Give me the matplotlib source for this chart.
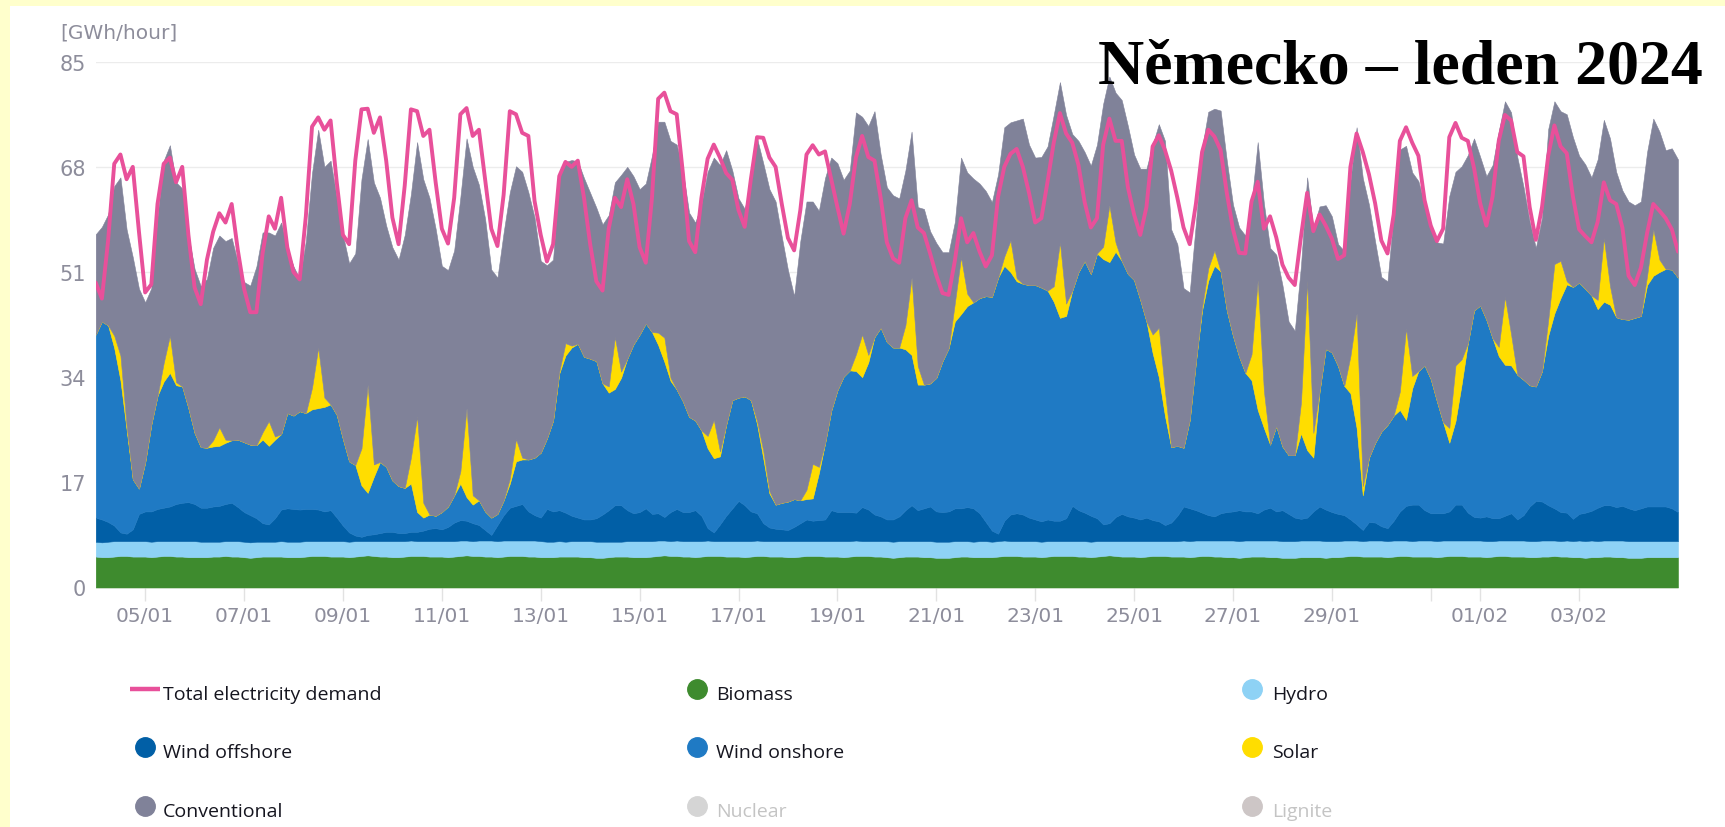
import numpy as np
import pandas as pd
import matplotlib
matplotlib.use("Agg")
import matplotlib.pyplot as plt
from matplotlib.patches import Rectangle
from matplotlib.lines import Line2D

# ---------------- data (3-hourly, 2024-01-04 00:00 -> 2024-02-05 00:00) ----------------
demand = [
    49.3, 46.7, 56.0, 68.5, 70.0, 66.0, 68.0, 57.5,
    47.7, 49.0, 62.0, 68.5, 69.5, 65.5, 68.0, 57.0,
    48.5, 45.8, 53.0, 57.5, 60.5, 59.0, 62.0, 54.5,
    48.3, 44.5, 44.5, 54.0, 60.0, 58.0, 63.0, 55.0,
    51.0, 49.8, 60.0, 74.5, 76.0, 74.0, 75.5, 65.5,
    57.0, 55.5, 69.0, 77.3, 77.4, 73.5, 76.0, 69.0,
    59.8, 55.5, 65.0, 77.3, 77.0, 73.0, 74.0, 65.5,
    58.0, 55.6, 63.0, 76.5, 77.5, 73.0, 74.0, 66.0,
    58.0, 55.2, 63.5, 77.0, 76.5, 73.5, 73.0, 62.5,
    57.0, 52.7, 55.5, 66.5, 68.8, 68.0, 69.0, 63.0,
    55.5, 49.5, 48.0, 58.0, 63.0, 61.5, 66.0, 62.0,
    55.0, 52.5, 63.0, 79.0, 80.0, 77.0, 76.5, 67.0,
    56.0, 54.2, 63.0, 69.3, 71.6, 69.5, 67.0, 65.9,
    61.0, 58.3, 66.0, 72.8, 72.7, 69.5, 68.0, 62.0,
    56.5, 54.5, 61.0, 70.0, 71.5, 70.0, 70.5, 66.0,
    61.5, 57.2, 62.0, 69.5, 73.0, 69.6, 69.0, 63.0,
    55.8, 53.2, 52.5, 59.7, 62.6, 58.2, 57.3, 54.0,
    50.5, 47.6, 47.3, 52.8, 59.7, 55.8, 57.3, 54.3,
    51.9, 53.7, 63.2, 68.0, 70.1, 70.9, 68.0, 63.8,
    59.0, 59.7, 65.6, 71.9, 76.7, 73.4, 71.9, 68.3,
    62.3, 58.2, 59.7, 71.6, 75.8, 72.2, 72.2, 64.7,
    60.3, 57.0, 61.5, 71.3, 73.1, 70.7, 67.4, 63.0,
    58.2, 55.5, 62.0, 70.4, 74.0, 72.9, 70.7, 63.8,
    57.9, 54.1, 54.0, 62.4, 65.6, 58.0, 60.0, 56.6,
    52.2, 50.1, 48.9, 56.7, 63.8, 57.6, 60.3, 58.5,
    56.4, 53.1, 53.7, 68.0, 73.4, 70.4, 66.8, 62.1,
    56.1, 54.0, 60.3, 72.2, 74.4, 71.9, 69.8, 62.6,
    58.5, 56.0, 58.0, 72.8, 75.1, 72.7, 72.2, 67.8,
    62.1, 58.5, 63.2, 72.2, 76.4, 75.5, 70.4, 69.7,
    61.5, 56.2, 61.5, 69.8, 74.7, 71.3, 70.2, 63.2,
    57.9, 56.8, 55.8, 59.1, 65.5, 62.6, 62.0, 58.2,
    50.4, 48.9, 51.7, 57.3, 62.0, 60.9, 59.7, 57.9,
    54.3,
]

biomass = [
    5.0, 4.9, 4.9, 5.0, 5.1, 5.1, 5.0, 5.0,
    5.0, 4.9, 5.0, 5.1, 5.1, 5.0, 5.0, 4.9,
    4.9, 4.9, 4.9, 5.0, 5.0, 5.1, 5.0, 5.0,
    4.9, 4.8, 4.9, 5.0, 5.0, 5.0, 5.0, 4.9,
    4.9, 4.9, 5.0, 5.1, 5.1, 5.1, 5.0, 5.0,
    5.0, 4.9, 5.0, 5.1, 5.2, 5.1, 5.0, 5.0,
    4.9, 4.9, 5.0, 5.1, 5.1, 5.1, 5.0, 5.0,
    5.0, 4.9, 5.0, 5.1, 5.2, 5.1, 5.1, 5.0,
    5.0, 4.9, 5.0, 5.1, 5.1, 5.1, 5.0, 5.0,
    4.9, 4.9, 4.9, 5.0, 5.0, 5.0, 5.0, 4.9,
    4.9, 4.8, 4.8, 4.9, 5.0, 5.0, 5.0, 4.9,
    4.9, 4.9, 5.0, 5.1, 5.2, 5.1, 5.1, 5.0,
    5.0, 4.9, 5.0, 5.1, 5.1, 5.1, 5.0, 5.0,
    5.0, 4.9, 5.0, 5.1, 5.1, 5.0, 5.0, 5.0,
    4.9, 4.9, 5.0, 5.1, 5.1, 5.1, 5.0, 5.0,
    5.0, 4.9, 5.0, 5.1, 5.1, 5.1, 5.0, 5.0,
    4.9, 4.8, 4.9, 5.0, 5.0, 5.0, 4.9, 4.9,
    4.8, 4.8, 4.8, 4.9, 5.0, 5.0, 4.9, 4.9,
    4.9, 4.9, 5.0, 5.1, 5.1, 5.1, 5.0, 5.0,
    5.0, 4.9, 5.0, 5.1, 5.1, 5.1, 5.1, 5.0,
    5.0, 4.9, 5.0, 5.1, 5.2, 5.1, 5.0, 5.0,
    5.0, 4.9, 5.0, 5.1, 5.1, 5.1, 5.0, 5.0,
    5.0, 4.9, 5.0, 5.1, 5.1, 5.0, 5.0, 4.9,
    4.9, 4.8, 4.9, 5.0, 5.0, 5.0, 4.9, 4.9,
    4.8, 4.8, 4.8, 4.9, 4.9, 4.9, 4.9, 4.8,
    4.9, 4.9, 5.0, 5.1, 5.1, 5.0, 5.0, 5.0,
    5.0, 4.9, 5.0, 5.1, 5.1, 5.0, 5.0, 5.0,
    5.0, 4.9, 5.0, 5.1, 5.1, 5.1, 5.0, 5.0,
    5.0, 4.9, 5.0, 5.1, 5.1, 5.0, 5.0, 5.0,
    4.9, 4.9, 5.0, 5.0, 5.1, 5.0, 5.0, 4.9,
    4.9, 4.8, 4.9, 4.9, 5.0, 5.0, 4.9, 4.9,
    4.8, 4.8, 4.8, 4.9, 4.9, 4.9, 4.9, 4.9,
    4.9,
]

hydro = [
    2.4, 2.4, 2.5, 2.5, 2.4, 2.4, 2.5, 2.5,
    2.5, 2.5, 2.5, 2.4, 2.4, 2.5, 2.5, 2.6,
    2.6, 2.5, 2.5, 2.4, 2.4, 2.4, 2.5, 2.5,
    2.5, 2.5, 2.5, 2.4, 2.4, 2.4, 2.5, 2.5,
    2.5, 2.5, 2.5, 2.4, 2.4, 2.4, 2.5, 2.5,
    2.5, 2.5, 2.5, 2.4, 2.3, 2.4, 2.5, 2.5,
    2.6, 2.6, 2.5, 2.5, 2.4, 2.4, 2.5, 2.5,
    2.5, 2.6, 2.5, 2.5, 2.4, 2.4, 2.5, 2.6,
    2.6, 2.6, 2.6, 2.5, 2.5, 2.5, 2.6, 2.6,
    2.6, 2.5, 2.5, 2.5, 2.4, 2.5, 2.5, 2.6,
    2.6, 2.6, 2.6, 2.5, 2.4, 2.4, 2.5, 2.6,
    2.6, 2.6, 2.5, 2.5, 2.4, 2.4, 2.5, 2.5,
    2.5, 2.6, 2.5, 2.5, 2.4, 2.4, 2.5, 2.5,
    2.5, 2.6, 2.5, 2.5, 2.4, 2.5, 2.5, 2.5,
    2.6, 2.6, 2.5, 2.4, 2.4, 2.4, 2.5, 2.5,
    2.5, 2.6, 2.5, 2.5, 2.4, 2.4, 2.5, 2.5,
    2.6, 2.6, 2.6, 2.5, 2.5, 2.5, 2.6, 2.6,
    2.6, 2.6, 2.6, 2.6, 2.5, 2.5, 2.5, 2.6,
    2.6, 2.5, 2.5, 2.5, 2.4, 2.4, 2.5, 2.5,
    2.5, 2.5, 2.5, 2.4, 2.4, 2.4, 2.4, 2.5,
    2.5, 2.5, 2.5, 2.4, 2.3, 2.4, 2.5, 2.5,
    2.5, 2.6, 2.5, 2.4, 2.4, 2.4, 2.5, 2.5,
    2.6, 2.6, 2.6, 2.5, 2.5, 2.6, 2.6, 2.7,
    2.7, 2.7, 2.7, 2.6, 2.6, 2.6, 2.7, 2.7,
    2.7, 2.7, 2.7, 2.7, 2.7, 2.7, 2.7, 2.7,
    2.6, 2.6, 2.6, 2.5, 2.5, 2.5, 2.6, 2.6,
    2.6, 2.6, 2.6, 2.5, 2.5, 2.5, 2.6, 2.6,
    2.6, 2.6, 2.6, 2.5, 2.5, 2.5, 2.6, 2.6,
    2.6, 2.6, 2.5, 2.5, 2.5, 2.6, 2.6, 2.6,
    2.6, 2.6, 2.6, 2.6, 2.5, 2.5, 2.6, 2.6,
    2.7, 2.7, 2.7, 2.6, 2.6, 2.6, 2.7, 2.7,
    2.7, 2.7, 2.7, 2.6, 2.6, 2.6, 2.6, 2.6,
    2.6,
]

wind_offshore = [
    3.9, 3.7, 3.2, 2.5, 1.4, 1.2, 1.9, 4.4,
    4.8, 4.9, 5.2, 5.4, 5.6, 6.0, 6.2, 6.3,
    6.0, 5.5, 5.5, 5.7, 5.8, 6.0, 6.2, 5.5,
    4.8, 4.4, 3.8, 3.0, 2.8, 3.8, 5.1, 5.4,
    5.3, 5.2, 5.2, 5.2, 5.1, 4.8, 5.0, 3.8,
    2.5, 1.5, 0.9, 0.7, 1.0, 1.1, 1.3, 1.5,
    1.5, 1.3, 1.3, 1.4, 1.5, 1.7, 2.0, 2.1,
    1.9, 2.3, 3.0, 3.3, 3.2, 2.9, 2.5, 1.7,
    0.9, 2.6, 4.1, 5.3, 5.6, 5.9, 4.7, 4.1,
    3.8, 5.3, 4.9, 5.0, 4.7, 4.1, 3.8, 3.5,
    3.5, 3.8, 4.4, 5.1, 5.9, 5.9, 5.0, 4.5,
    4.7, 5.3, 4.4, 4.4, 3.8, 4.7, 5.1, 4.7,
    4.7, 5.0, 4.1, 2.0, 1.4, 2.7, 4.1, 5.3,
    6.5, 5.8, 4.8, 4.4, 2.9, 2.2, 2.0, 1.9,
    1.8, 2.3, 2.9, 3.5, 3.3, 3.4, 3.5, 5.0,
    4.7, 4.7, 4.7, 4.5, 5.5, 5.1, 4.3, 4.0,
    3.5, 3.6, 4.0, 5.0, 5.8, 5.0, 5.3, 5.6,
    4.9, 4.8, 4.9, 5.3, 5.3, 5.5, 5.4, 4.5,
    3.1, 1.8, 1.2, 3.2, 4.3, 4.5, 4.3, 3.8,
    3.5, 3.3, 3.5, 3.3, 3.3, 3.7, 5.7, 5.0,
    4.6, 4.2, 3.7, 2.7, 2.9, 3.9, 4.4, 4.0,
    3.8, 3.5, 3.8, 3.4, 3.2, 2.6, 3.0, 4.1,
    5.5, 5.3, 4.9, 4.5, 4.1, 3.9, 4.4, 4.6,
    4.7, 5.0, 4.7, 4.7, 4.4, 5.0, 5.3, 4.7,
    5.0, 4.4, 3.8, 3.5, 3.7, 4.7, 5.5, 5.1,
    4.7, 4.4, 4.1, 3.4, 2.6, 1.8, 3.0, 2.9,
    2.3, 2.1, 3.2, 4.7, 5.6, 5.9, 5.8, 4.9,
    4.4, 4.5, 4.4, 4.7, 5.8, 5.8, 4.5, 3.8,
    3.7, 4.0, 3.7, 3.6, 4.0, 4.4, 3.4, 4.1,
    5.6, 6.5, 6.3, 5.7, 5.2, 4.7, 4.5, 3.6,
    4.3, 4.6, 4.8, 5.4, 5.7, 5.7, 5.4, 5.6,
    5.3, 5.0, 5.3, 5.6, 5.6, 5.6, 5.6, 5.3,
    4.7,
]

wind_onshore = [
    29.6, 32.0, 31.8, 28.7, 24.6, 16.8, 8.1, 4.1,
    7.9, 14.1, 18.3, 20.4, 21.6, 19.2, 18.8, 15.2,
    11.5, 9.8, 9.7, 9.7, 9.7, 9.9, 10.1, 10.9,
    11.3, 11.4, 11.8, 13.5, 12.7, 12.7, 12.2, 15.4,
    15.1, 15.9, 15.5, 16.1, 16.4, 16.9, 17.1, 16.6,
    14.0, 11.5, 11.4, 8.3, 6.8, 9.3, 11.5, 10.5,
    8.3, 7.6, 7.3, 7.8, 3.2, 2.1, 2.3, 2.0,
    2.8, 3.3, 4.4, 5.9, 3.8, 3.0, 4.0, 3.0,
    2.8, 1.8, 2.4, 3.9, 7.2, 7.2, 8.4, 9.3,
    10.5, 11.4, 14.7, 22.1, 25.4, 27.2, 28.1, 26.3,
    26.0, 25.4, 21.2, 19.0, 18.8, 20.6, 24.5, 27.3,
    28.7, 29.9, 29.4, 27.2, 25.1, 21.2, 19.3, 17.9,
    15.4, 14.5, 13.8, 12.9, 12.0, 11.0, 14.7, 17.5,
    16.7, 17.6, 18.0, 14.4, 10.5, 5.5, 3.9, 4.3,
    4.6, 4.5, 3.7, 3.3, 3.6, 7.6, 12.3, 16.1,
    19.7, 21.9, 22.9, 22.9, 21.0, 23.8, 28.7, 30.5,
    28.7, 27.8, 27.3, 26.0, 24.3, 20.3, 20.0, 19.9,
    21.6, 24.4, 26.4, 30.2, 31.4, 32.5, 33.3, 34.8,
    36.5, 37.8, 41.4, 41.2, 39.2, 37.5, 37.3, 37.6,
    37.9, 37.8, 37.0, 35.4, 32.8, 32.7, 34.8, 38.5,
    40.7, 39.1, 42.8, 42.9, 42.2, 42.9, 40.9, 39.2,
    38.4, 35.5, 31.7, 27.0, 23.3, 17.6, 12.2, 11.3,
    9.5, 14.3, 24.0, 32.7, 37.9, 40.5, 39.1, 32.6,
    28.4, 24.8, 22.4, 21.2, 16.7, 13.2, 10.2, 13.8,
    10.3, 9.5, 10.1, 13.8, 10.9, 8.7, 18.6, 26.0,
    25.8, 23.9, 20.9, 20.4, 15.6, 5.6, 10.4, 12.9,
    15.3, 16.7, 17.0, 16.4, 13.9, 18.8, 21.6, 23.4,
    21.7, 18.1, 14.7, 11.1, 13.5, 19.5, 27.4, 33.4,
    34.3, 31.8, 29.1, 26.2, 24.4, 23.9, 23.4, 21.9,
    19.6, 18.5, 21.1, 27.4, 31.5, 34.6, 36.9, 37.5,
    37.4, 36.2, 34.8, 32.1, 32.9, 32.4, 30.7, 30.2,
    30.5, 31.1, 31.1, 35.8, 37.3, 37.9, 38.4, 38.6,
    37.9,
]

solar = [
    0, 0, 0, 2.0, 4.0, 0.6, 0, 0,
    0, 0, 0, 3.0, 6.0, 0.5, 0, 0,
    0, 0, 0, 1.0, 3.0, 0.5, 0, 0,
    0, 0, 0, 1.2, 4.0, 0.5, 0, 0,
    0, 0, 0, 3.5, 9.8, 1.5, 0, 0,
    0, 0, 0, 6.0, 17.5, 2.0, 0, 0,
    0, 0, 0, 4.2, 15.5, 2.4, 0, 0,
    0, 0, 0, 2.0, 14.4, 1.5, 0, 0,
    0, 0, 0, 0.8, 3.6, 0.3, 0, 0,
    0, 0, 0, 0.3, 2.0, 0.3, 0, 0,
    0, 0, 0, 1.0, 8.4, 1.0, 0, 0,
    0, 0, 0, 2.0, 3.9, 0.5, 0, 0,
    0, 0, 0, 2.0, 6.2, 0.8, 0, 0,
    0, 0, 0, 0.5, 1.2, 0.4, 0, 0,
    0, 0, 0, 1.5, 5.6, 1.0, 0, 0,
    0, 0, 0, 2.7, 6.9, 1.2, 0, 0,
    0, 0, 0, 3.9, 12.5, 3.0, 0, 0,
    0, 0, 0, 3.0, 9.2, 2.0, 0, 0,
    0, 0, 0, 1.5, 5.1, 0.5, 0, 0,
    0, 0, 0, 2.5, 12.2, 2.0, 0, 0,
    0, 0, 0, 2.0, 9.2, 1.5, 0, 0,
    0, 0, 0, 3.0, 8.0, 4.0, 0, 0,
    0, 0, 0, 0.5, 2.0, 2.5, 0, 0,
    0, 0, 0, 4.2, 21.0, 6.0, 0, 0,
    0, 0, 0, 5.0, 27.4, 4.0, 0, 0,
    0, 0, 0, 6.0, 18.5, 1.5, 0, 0,
    0, 0, 0, 3.0, 14.8, 2.0, 0, 0,
    0, 0, 0, 2.4, 9.0, 4.0, 0, 0,
    0, 0, 0, 1.5, 11.0, 5.0, 0, 0,
    0, 0, 0, 2.5, 8.0, 6.0, 0.5, 0,
    0, 0, 0, 1.5, 10.3, 3.0, 0, 0,
    0, 0, 0, 1.5, 7.5, 2.0, 0, 0,
    0,
]

conventional = [
    16.2, 15.3, 17.9, 24.2, 28.8, 31.8, 35.9, 32.3,
    25.9, 22.0, 29.0, 32.7, 30.8, 32.3, 32.0, 28.0,
    26.5, 26.0, 27.3, 31.1, 31.0, 32.1, 32.7, 28.6,
    25.9, 25.7, 28.9, 32.3, 30.5, 32.5, 34.2, 26.7,
    24.1, 21.4, 27.8, 34.7, 35.2, 37.3, 39.4, 35.1,
    33.0, 32.0, 34.2, 43.5, 39.7, 45.6, 42.7, 39.0,
    37.7, 36.6, 40.9, 42.6, 44.3, 52.3, 51.2, 46.4,
    39.8, 38.2, 39.6, 44.3, 43.6, 53.1, 51.0, 47.3,
    40.1, 38.2, 43.3, 46.3, 44.1, 46.2, 43.2, 38.8,
    31.0, 28.0, 26.0, 31.9, 29.3, 30.0, 29.5, 28.9,
    26.8, 24.8, 25.7, 27.7, 25.0, 31.8, 31.0, 27.2,
    23.5, 22.6, 28.5, 34.1, 34.9, 38.3, 39.6, 37.3,
    33.0, 32.0, 36.6, 42.7, 42.4, 46.3, 44.4, 37.1,
    32.2, 30.3, 35.3, 45.7, 46.5, 48.8, 49.0, 43.0,
    37.4, 32.8, 41.9, 46.6, 42.4, 41.4, 42.9, 40.9,
    36.7, 31.8, 32.3, 39.1, 35.2, 37.0, 36.5, 28.0,
    25.0, 24.6, 24.1, 25.0, 23.6, 25.7, 28.4, 24.6,
    21.8, 17.6, 15.5, 13.1, 16.1, 19.6, 20.0, 18.5,
    17.0, 15.3, 16.7, 20.9, 19.1, 25.5, 26.7, 22.7,
    20.6, 21.1, 23.3, 27.7, 25.9, 30.5, 25.3, 21.2,
    17.6, 17.5, 17.6, 23.1, 20.8, 24.2, 26.0, 23.9,
    20.3, 21.2, 24.7, 30.7, 32.9, 40.5, 35.2, 32.6,
    25.8, 20.6, 22.4, 25.8, 25.3, 22.9, 26.0, 24.2,
    21.2, 20.9, 22.2, 24.4, 22.3, 30.3, 31.8, 27.7,
    26.1, 21.6, 20.1, 22.1, 16.7, 33.0, 29.9, 23.2,
    22.0, 19.7, 21.8, 28.3, 30.1, 49.8, 40.9, 32.5,
    25.0, 23.2, 32.6, 39.1, 29.5, 32.9, 30.7, 26.0,
    24.9, 25.7, 28.9, 37.5, 31.3, 31.2, 30.4, 27.8,
    24.0, 23.2, 28.0, 34.9, 31.6, 35.9, 35.2, 31.2,
    26.4, 22.4, 24.8, 30.9, 26.3, 24.2, 27.0, 24.2,
    20.5, 20.1, 19.1, 22.7, 19.1, 23.9, 23.5, 20.8,
    19.1, 18.2, 18.5, 20.0, 17.9, 20.7, 19.2, 19.6,
    19.1,
]

times = pd.date_range("2024-01-04 00:00", periods=len(demand), freq="3h")

tick_dates = ["2024-01-05", "2024-01-07", "2024-01-09", "2024-01-11", "2024-01-13",
              "2024-01-15", "2024-01-17", "2024-01-19", "2024-01-21", "2024-01-23",
              "2024-01-25", "2024-01-27", "2024-01-29", "2024-01-31", "2024-02-01",
              "2024-02-03"]
tick_labels = ["05/01", "07/01", "09/01", "11/01", "13/01", "15/01", "17/01", "19/01",
               "21/01", "23/01", "25/01", "27/01", "29/01", "", "01/02", "03/02"]
y_ticks = [0, 17, 34, 51, 68, 85]

legend_items = [
    ("Total electricity demand", "line", "#E8509A", "#15151f"),
    ("Biomass", "dot", "#3E8B2E", "#15151f"),
    ("Hydro", "dot", "#8ED2F5", "#15151f"),
    ("Wind offshore", "dot", "#015FA6", "#15151f"),
    ("Wind onshore", "dot", "#1F7AC4", "#15151f"),
    ("Solar", "dot", "#FFDD00", "#15151f"),
    ("Conventional", "dot", "#808299", "#15151f"),
    ("Nuclear", "dot", "#D5D5D5", "#c4c4c4"),
    ("Lignite", "dot", "#CDC6C6", "#c4c4c4"),
]

# ---------------- figure ----------------
W, H = 1725, 828
fig = plt.figure(figsize=(W / 100, H / 100), dpi=100)
fig.patch.set_facecolor("white")

# yellow frame strips (top and left)
fig.add_artist(Rectangle((0, 0), 10 / W, 1, transform=fig.transFigure,
                         facecolor="#FFFFCC", edgecolor="none", zorder=0))
fig.add_artist(Rectangle((0, 1 - 7 / H), 1, 7 / H, transform=fig.transFigure,
                         facecolor="#FFFFCC", edgecolor="none", zorder=0))

x0, x1 = 95.7, 1678.0
y_top, y_bot = 62.7, 588.5
ax = fig.add_axes([x0 / W, 1 - y_bot / H, (x1 - x0) / W, (y_bot - y_top) / H])
ax.set_facecolor("white")

colors = ["#3E8B2E", "#8ED2F5", "#015FA6", "#1F7AC4", "#FFDD00", "#808299"]
polys = ax.stackplot(times, biomass, hydro, wind_offshore, wind_onshore, solar,
                     conventional, colors=colors, linewidth=0, zorder=2)
for p, c in zip(polys, colors):
    p.set_edgecolor(c)
    p.set_linewidth(0.4)

ax.plot(times, demand, color="#E8509A", lw=2.8, solid_joinstyle="round",
        solid_capstyle="round", zorder=3)

ax.set_xlim(times[0], times[-1])
ax.set_ylim(0, 85)
ax.set_yticks(y_ticks)
ax.set_yticklabels([str(v) for v in y_ticks])
ax.set_xticks(pd.to_datetime(tick_dates))
ax.set_xticklabels(tick_labels)

ax.grid(axis="y", color="#ececec", lw=1.0, zorder=0)
ax.set_axisbelow(True)
for s in ax.spines.values():
    s.set_visible(False)

tick_col = "#8d8d9b"
ax.tick_params(axis="y", length=0, pad=7, labelsize=15, labelcolor=tick_col)
ax.tick_params(axis="x", length=9, width=1, color="#e2e2e2", pad=4,
               labelsize=14.5, labelcolor=tick_col)
for lab in ax.get_xticklabels() + ax.get_yticklabels():
    lab.set_fontfamily(["DejaVu Sans"])

fig.text(60 / W, 1 - 33 / H, "[GWh/hour]", ha="left", va="center",
         fontsize=14.5, color=tick_col, family=["DejaVu Sans"])

# title
fig.text(1703 / W, 1 - 84 / H, "Německo – leden 2024", ha="right", va="baseline",
         fontsize=46, fontweight="bold", color="black",
         family=["Liberation Serif", "DejaVu Serif"])

# legend (3 columns x 3 rows)
col_marker_x = [145, 697, 1252]
col_text_x = [163, 716, 1272]
row_y = [695, 753, 812]
for i, (name, kind, mcol, tcol) in enumerate(legend_items):
    r, c = divmod(i, 3)
    ym = 1 - (row_y[r] - 5) / H
    if kind == "line":
        fig.add_artist(Line2D([130 / W, 160 / W], [ym, ym], transform=fig.transFigure,
                              color=mcol, lw=3.2, solid_capstyle="butt"))
    else:
        fig.add_artist(Line2D([col_marker_x[c] / W], [ym], transform=fig.transFigure,
                              marker="o", markersize=14, color=mcol, linestyle="none"))
    fig.text(col_text_x[c] / W, 1 - row_y[r] / H, name, ha="left", va="center",
             fontsize=14, color=tcol, family=["Open Sans", "DejaVu Sans"])

fig.savefig("out.png", dpi=100, facecolor=fig.get_facecolor())
